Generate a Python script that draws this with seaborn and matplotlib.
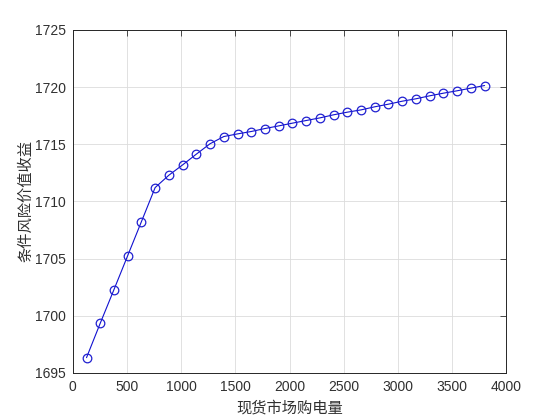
import numpy as np
import pandas as pd
import seaborn as sns
import matplotlib.pyplot as plt

## Data
purchase = [3800 * k / 30 for k in range(1, 31)]
cvar_income = [1696.34, 1699.35, 1702.29, 1705.26, 1708.23, 1711.21, 1712.29, 1713.19,
               1714.13, 1715.04, 1715.67, 1715.90, 1716.11, 1716.37, 1716.60, 1716.84,
               1717.07, 1717.30, 1717.57, 1717.80, 1718.00, 1718.27, 1718.50, 1718.76,
               1718.97, 1719.23, 1719.46, 1719.67, 1719.90, 1720.13]
x_ticks = [0, 500, 1000, 1500, 2000, 2500, 3000, 3500, 4000]
y_ticks = [1695, 1700, 1705, 1710, 1715, 1720, 1725]

df = pd.DataFrame({'purchase': purchase, 'income': cvar_income})

sns.set_style('white')
plt.rcParams['font.family'] = ['Liberation Sans', 'Noto Sans CJK SC', 'DejaVu Sans']

## Plot settings (MATLAB-like axes)
fig = plt.figure(figsize=(5.6, 4.2), dpi=100)
ax = fig.add_axes([0.13, 0.112, 0.774, 0.817])

sns.lineplot(x='purchase', y='income', data=df, ax=ax, color='#1010d0',
             linewidth=0.8, marker='o', markersize=6.2, markerfacecolor='none',
             markeredgecolor='#2020d0', markeredgewidth=0.9)

ax.set_xlim(0, 4000)
ax.set_ylim(1695, 1725)
ax.set_xticks(x_ticks)
ax.set_yticks(y_ticks)
ax.grid(True, color='#dcdcdc', linewidth=0.6)
ax.tick_params(direction='in', length=4, width=0.6, top=True, right=True,
               labelsize=10, colors='#303030', pad=5)
for s in ax.spines.values():
    s.set_color('#262626')
    s.set_linewidth(0.7)

ax.set_xlabel('现货市场购电量', fontsize=11, color='#303030', labelpad=5)
ax.set_ylabel('条件风险价值收益', fontsize=11, color='#303030', labelpad=1)

fig.savefig('out.png', dpi=100, facecolor='white')
